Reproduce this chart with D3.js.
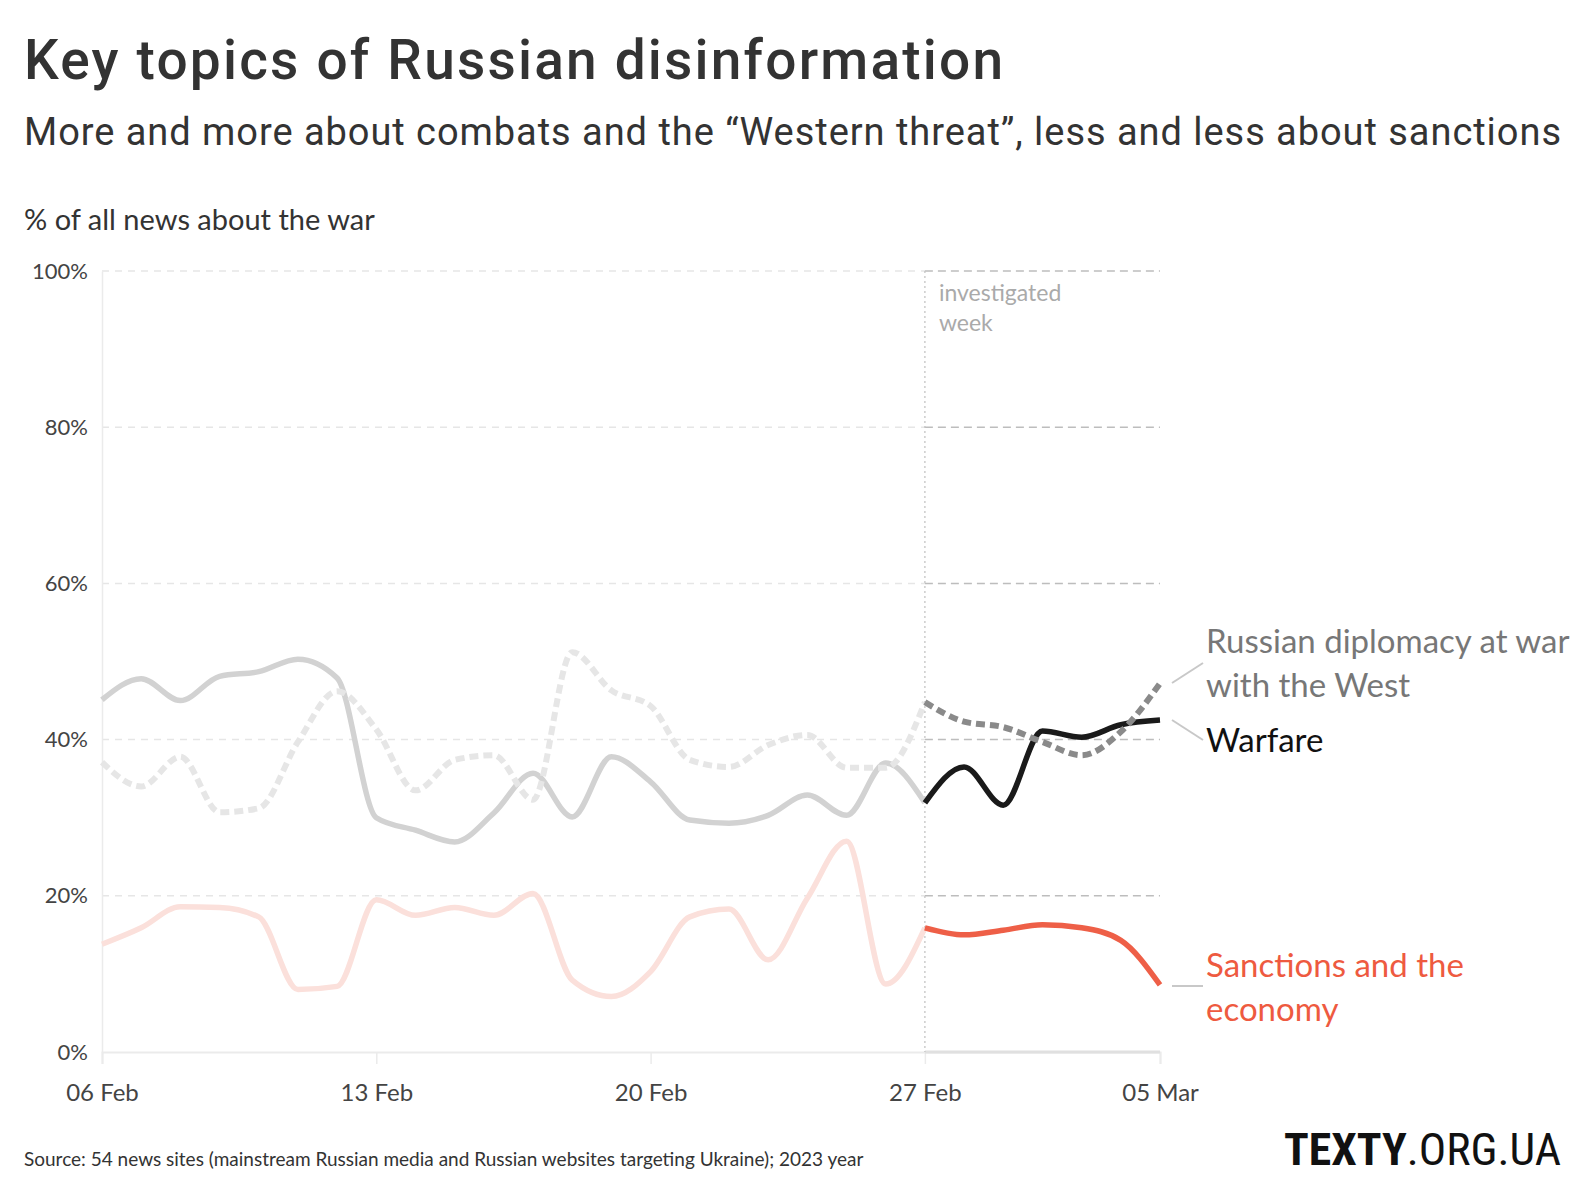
<!DOCTYPE html>
<html><head><meta charset="utf-8">
<script src="https://cdn.jsdelivr.net/npm/d3@7"></script>
<style>
html,body{margin:0;padding:0;background:#fff;}
svg{display:block;}
</style></head>
<body>
<svg id="chart" width="1584" height="1194"></svg>
<script>
const dates = ["2023-02-06","2023-02-07","2023-02-08","2023-02-09","2023-02-10","2023-02-11","2023-02-12",
"2023-02-13","2023-02-14","2023-02-15","2023-02-16","2023-02-17","2023-02-18","2023-02-19",
"2023-02-20","2023-02-21","2023-02-22","2023-02-23","2023-02-24","2023-02-25","2023-02-26",
"2023-02-27","2023-02-28","2023-03-01","2023-03-02","2023-03-03","2023-03-04","2023-03-05"];
const warfare   = [45.1,47.8,45.0,48.1,48.7,50.3,47.9,30.0,28.4,26.9,30.6,35.7,30.1,37.8,34.6,29.7,29.3,30.3,32.9,30.3,37.0,31.9,36.5,31.6,41.1,40.3,41.9,42.5];
const diplomacy = [37.1,34.0,37.8,30.7,31.2,39.7,46.2,41.3,33.5,37.4,38.0,32.3,51.2,46.3,44.3,37.4,36.5,39.3,40.6,36.4,36.4,44.8,42.3,41.6,39.7,38.0,41.0,47.2];
const sanctions = [13.8,15.9,18.6,18.5,17.3,8.0,8.4,19.5,17.5,18.5,17.5,20.3,9.2,7.1,10.3,17.3,18.3,11.8,19.7,27.0,8.7,15.9,15.0,15.6,16.3,15.9,14.3,8.6];
const yTicks = [0,20,40,60,80,100];
const xTickDates = ["2023-02-06","2023-02-13","2023-02-20","2023-02-27","2023-03-05"];
const investigatedStart = "2023-02-27";
const seriesLabels = {
  diplomacy: ["Russian diplomacy at war","with the West"],
  warfare: ["Warfare"],
  sanctions: ["Sanctions and the","economy"]
};

const parse = d3.timeParse("%Y-%m-%d");
const fmt = d3.timeFormat("%d %b");
const svg = d3.select("#chart");
const FONT = "Lato, 'Open Sans', sans-serif";

const x = d3.scaleTime().domain([parse(dates[0]), parse(dates[dates.length-1])]).range([102,1160]);
const y = d3.scaleLinear().domain([0,100]).range([1052,271]);
const split = dates.indexOf(investigatedStart);
const xs = parse(investigatedStart);

// titles
svg.append("text").attr("x",24).attr("y",79).attr("font-family","Roboto, sans-serif").attr("font-weight",500)
  .attr("font-size",55).attr("fill","#333").attr("textLength",979).attr("lengthAdjust","spacing")
  .text("Key topics of Russian disinformation");
svg.append("text").attr("x",24).attr("y",145).attr("font-family","Roboto, sans-serif").attr("font-weight",400)
  .attr("font-size",38).attr("fill","#333").attr("textLength",1537).attr("lengthAdjust","spacing")
  .text("More and more about combats and the \u201cWestern threat\u201d, less and less about sanctions");
svg.append("text").attr("x",24).attr("y",230).attr("font-family",FONT).attr("font-size",29).attr("fill","#333")
  .text("% of all news about the war");

// gridlines
const grid = svg.append("g");
yTicks.filter(t=>t>0).forEach(t=>{
  grid.append("line").attr("x1",x.range()[0]).attr("x2",x(xs)).attr("y1",y(t)).attr("y2",y(t))
    .attr("stroke","#e6e6e6").attr("stroke-width",1.5).attr("stroke-dasharray","7,6");
  grid.append("line").attr("x1",x(xs)).attr("x2",x.range()[1]).attr("y1",y(t)).attr("y2",y(t))
    .attr("stroke","#bdbdbd").attr("stroke-width",1.5).attr("stroke-dasharray","8,5");
});

// y axis
const yAxis = svg.append("g").attr("transform","translate(102,0)")
  .call(d3.axisLeft(y).tickValues(yTicks).tickSize(0).tickPadding(14).tickFormat(d=>d+"%"));
yAxis.select(".domain").attr("stroke","#ebebeb").attr("stroke-width",1.5);
yAxis.selectAll("text").attr("font-family",FONT).attr("font-size",22).attr("fill","#444");

// x axis
const xAxis = svg.append("g").attr("transform","translate(0,1052)")
  .call(d3.axisBottom(x).tickValues(xTickDates.map(parse)).tickSize(12).tickPadding(20).tickFormat(fmt));
xAxis.select(".domain").attr("stroke","#ebebeb").attr("stroke-width",2);
xAxis.selectAll(".tick line").attr("stroke","#ebebeb").attr("stroke-width",1.5);
xAxis.selectAll("text").attr("font-family",FONT).attr("font-size",24).attr("fill","#444");
svg.append("line").attr("x1",x(xs)).attr("x2",x.range()[1]).attr("y1",1052).attr("y2",1052)
  .attr("stroke","#e0e0e0").attr("stroke-width",3);

// investigated week marker
svg.append("line").attr("x1",x(xs)).attr("x2",x(xs)).attr("y1",271).attr("y2",1052)
  .attr("stroke","#c4c4c4").attr("stroke-width",1.3).attr("stroke-dasharray","2,3");
svg.append("text").attr("x",x(xs)+14).attr("y",301).attr("font-family",FONT).attr("font-size",23).attr("fill","#aaa").text("investigated");
svg.append("text").attr("x",x(xs)+14).attr("y",331).attr("font-family",FONT).attr("font-size",23).attr("fill","#aaa").text("week");

// lines
const line = d3.line().x(d=>x(d.date)).y(d=>y(d.v)).curve(d3.curveMonotoneX);
function pts(arr,a,b){return arr.slice(a,b).map((v,i)=>({date:parse(dates[a+i]),v}));}
const N = dates.length;
const series = [
  {vals:sanctions, before:"#fbe0db", after:"#ee5f47", dash:null, w:5.5},
  {vals:warfare,   before:"#d2d2d2", after:"#1a1a1a", dash:null, w:5.5},
  {vals:diplomacy, before:"#e6e6e6", after:"#8a8a8a", dash:"9,5", w:6}
];
const lg = svg.append("g").attr("fill","none");
series.forEach(s=>{
  lg.append("path").attr("d",line(pts(s.vals,0,split+1))).attr("stroke",s.before).attr("stroke-width",s.w)
    .attr("stroke-dasharray",s.dash).attr("stroke-linejoin","round");
});
series.forEach(s=>{
  lg.append("path").attr("d",line(pts(s.vals,split,N))).attr("stroke",s.after).attr("stroke-width",s.w)
    .attr("stroke-dasharray",s.dash).attr("stroke-linejoin","round");
});

// labels with connectors
const lx = 1206;
const labels = [
  {lines:seriesLabels.diplomacy, color:"#777", y0:653, c:[[1172,683],[1203,663]]},
  {lines:seriesLabels.warfare, color:"#111", y0:752, c:[[1172,720],[1203,740]]},
  {lines:seriesLabels.sanctions, color:"#ee5a40", y0:977, c:[[1172,986],[1203,986]]}
];
labels.forEach(l=>{
  svg.append("line").attr("x1",l.c[0][0]).attr("y1",l.c[0][1]).attr("x2",l.c[1][0]).attr("y2",l.c[1][1])
    .attr("stroke","#c8c8c8").attr("stroke-width",2);
  l.lines.forEach((t,i)=>{
    svg.append("text").attr("x",lx).attr("y",l.y0+i*44).attr("font-family",FONT).attr("font-size",33)
      .attr("fill",l.color).text(t);
  });
});

// footer
svg.append("text").attr("x",24).attr("y",1166).attr("font-family",FONT).attr("font-size",19).attr("fill","#333")
  .text("Source: 54 news sites (mainstream Russian media and Russian websites targeting Ukraine); 2023 year");
const logo = svg.append("text").attr("x",1561).attr("y",1165).attr("text-anchor","end")
  .attr("font-family","'Liberation Sans Narrow', 'Roboto Condensed', Roboto, sans-serif").attr("font-size",44).attr("fill","#111")
  .attr("textLength",277).attr("lengthAdjust","spacingAndGlyphs");
logo.append("tspan").attr("font-weight",700).text("TEXTY");
logo.append("tspan").attr("font-weight",400).text(".ORG.UA");
</script>
</body></html>
